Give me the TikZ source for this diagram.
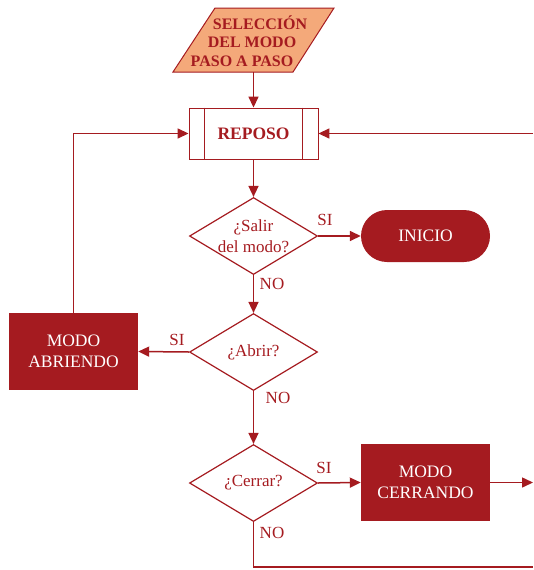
\documentclass[tikz,border=0pt]{standalone}
\usepackage{fontspec}
\setmainfont{Liberation Serif}
\usetikzlibrary{arrows.meta,shapes.geometric}
\definecolor{dred}{RGB}{165,27,32}
\definecolor{orng}{RGB}{244,169,122}
\begin{document}
\begin{tikzpicture}[x=1pt,y=-1pt,
 line/.style={draw=dred,line width=1.5pt},
 arr/.style={line,-{Triangle[length=11pt,width=10pt]}},
 dec/.style={diamond,draw=dred,line width=1.2pt,minimum width=128pt,minimum height=77pt,inner sep=0pt},
 dtext/.style={text=dred,font=\fontsize{17}{20.5}\selectfont,align=center,inner sep=0pt},
 fillbox/.style={rectangle,fill=dred,text=white,minimum width=129pt,minimum height=77pt,font=\fontsize{17.5}{20.5}\selectfont,align=center},
 lab/.style={text=dred,font=\fontsize{17}{20}\selectfont,inner sep=0pt},
 seltext/.style={text=dred,font=\bfseries\fontsize{16}{19}\selectfont,inner sep=0pt}
]
\useasboundingbox (0,0) rectangle (533,570);
% input parallelogram
\draw[line width=1pt,draw=dred,fill=orng] (215,8) -- (334,8) -- (293,72) -- (173,72) -- cycle;
\node[seltext] (sel1) at (260,23) {SELECCIÓN};
\node[seltext] (sel2) at (252,42) {DEL MODO};
\node[seltext] (sel3) at (242,61) {PASO A PASO};
\coordinate (selb) at (253.5,72);
% REPOSO
\node[rectangle,draw=dred,line width=0.9pt,minimum width=129pt,minimum height=51pt,text=dred,font=\bfseries\fontsize{17.5}{20}\selectfont] (rep) at (253.5,133.5) {REPOSO};
\draw[dred,line width=0.9pt] ([xshift=16pt]rep.north west) -- ([xshift=16pt]rep.south west);
\draw[dred,line width=0.9pt] ([xshift=-16pt]rep.north east) -- ([xshift=-16pt]rep.south east);
\draw[arr] (selb) -- (rep.north);
% decision 1
\node[dec] (d1) at (253.5,236) {};
\node[dtext] (d1t) at (d1) {¿Salir\\del modo?};
\draw[arr] (rep.south) -- (d1.north);
\node[rectangle,fill=dred,rounded corners=26pt,minimum width=129pt,minimum height=52pt,text=white,font=\fontsize{17.5}{20}\selectfont] (ini) at (425.5,236) {INICIO};
\draw[arr] (d1.east) -- (ini.west);
\node[lab] (si1) at (325,220) {SI};
\node[lab] (no1) at (272,284) {NO};
% decision 2
\node[dec] (d2) at (253.5,352) {};
\node[dtext] (d2t) at (d2) {¿Abrir?};
\draw[arr] (d1.south) -- (d2.north);
\node[fillbox] (abr) at (73.5,351.5) {MODO\\ABRIENDO};
\draw[arr] (d2.west) -- (abr.east);
\node[lab] (si2) at (177,340) {SI};
\draw[arr] (abr.north) -- (abr.north |- rep.west) -- (rep.west);
\node[lab] (no2) at (278,398) {NO};
% decision 3
\node[dec] (d3) at (253.5,483) {};
\node[dtext] (d3t) at (d3) {¿Cerrar?};
\draw[arr] (d2.south) -- (d3.north);
\node[fillbox] (cer) at (425.5,482.5) {MODO\\CERRANDO};
\draw[arr] (d3.east) -- (cer.west);
\node[lab] (si3) at (324,468) {SI};
\coordinate (ce) at (533,482.5);
\draw[arr] (cer.east) -- (ce);
\node[lab] (no3) at (272,533) {NO};
\coordinate (br) at (533,567);
\draw[line] (d3.south) -- (d3.south |- br) -- (br);
\coordinate (tr) at (533,133.5);
\draw[arr] (tr) -- (rep.east);
\end{tikzpicture}
\end{document}
